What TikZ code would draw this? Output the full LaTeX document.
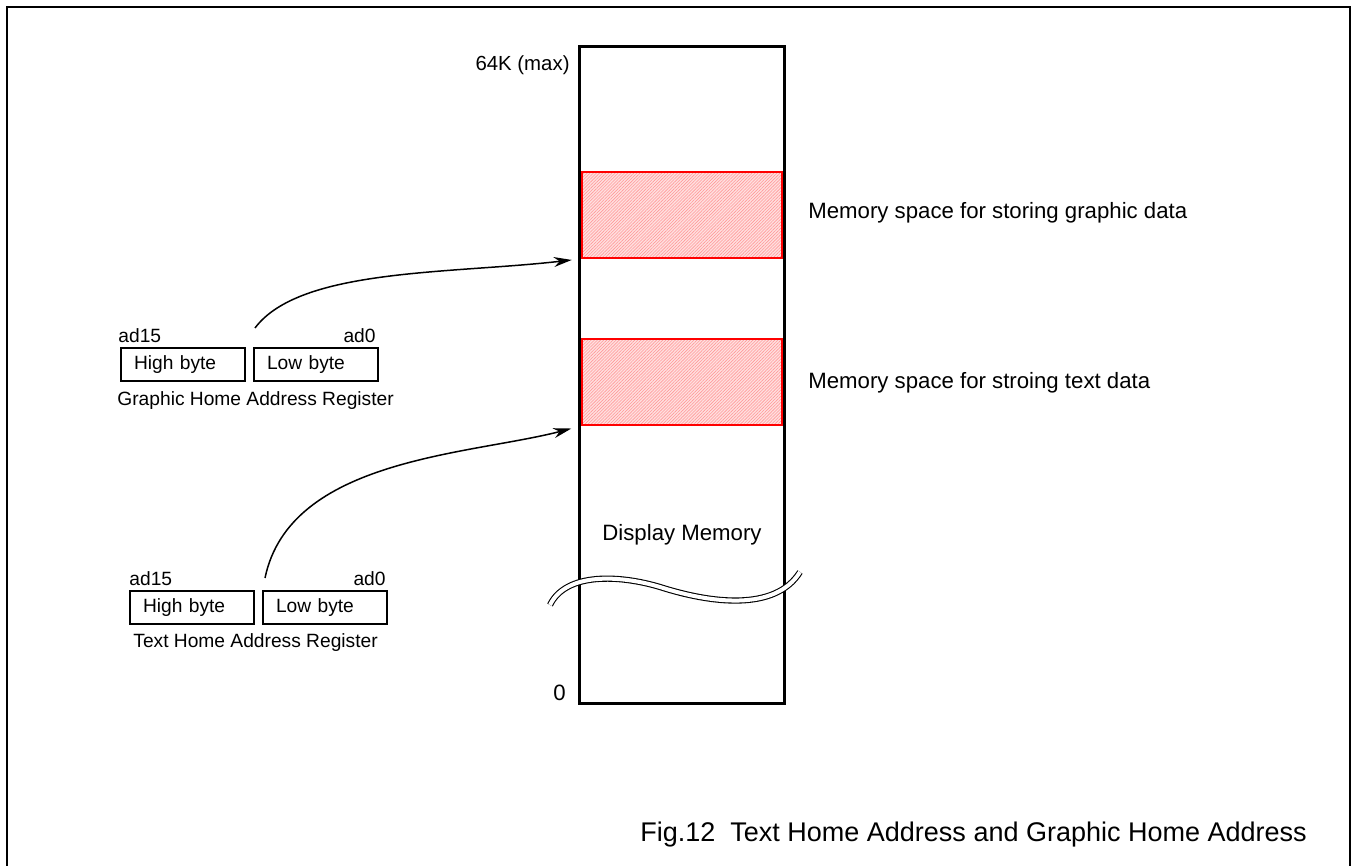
\documentclass[tikz,border=0pt]{standalone}
\usepackage{fontspec}
\setmainfont{Liberation Sans}
\usetikzlibrary{positioning,patterns.meta,arrows.meta}

\begin{document}
\begin{tikzpicture}[x=0.5pt,y=-0.5pt]
	\tikzstyle{reg} = [draw = black, line width=1pt, minimum height=16.5pt, text width=49pt, inner xsep=6.5pt, inner ysep=0pt, align=left, font=\fontsize{9.6}{11}\selectfont]
\tikzstyle{lbl} = [inner sep=0pt, font=\fontsize{9.6}{11}\selectfont]
\tikzstyle{txt} = [inner sep=0pt, font=\fontsize{11.1}{13}\selectfont]
\tikzstyle{mem} = [draw = black, line width=1.5pt, minimum width=102.5pt, minimum height=328.5pt, inner sep=0pt]
\tikzstyle{area} = [draw = red, line width=1pt, minimum width=100pt, minimum height=43pt, inner sep=0pt, preaction={fill=red!12}, pattern={Lines[angle=45,distance=1.1pt,line width=0.3pt]}, pattern color=red!40]
\tikzstyle{line} = [line width=0.75pt, >={Stealth[length=9pt,width=5pt]}]
\useasboundingbox (0,0) rectangle (1357,866);
\draw[line width=1pt] (7,866) -- (7,7) -- (1350,7) -- (1350,866);
\node(mem)[mem] at (682,375) {};
\node(garea)[area] at (682,215.5) {};
\node(tarea)[area] at (682,382) {};
\node(top)[inner sep=0pt, anchor=east, font=\fontsize{10.2}{12}\selectfont] at (570,65) {64K (max)};
\node(zero)[txt, anchor=east] at (566,693) {0};
\node(dm)[txt] at (682,535) {Display Memory};
\node(gtxt)[txt, anchor=west] at (808,213) {Memory space for storing graphic data};
\node(ttxt)[txt, anchor=west] at (808,383) {Memory space for stroing text data};
\draw[double=white, double distance=2pt, line width=0.55pt] (550,605) .. controls (566,572) and (620,575) .. (660,587) .. controls (710,603) and (775,612) .. (800,572);
% graphic home address register
\node(ghigh)[reg] at (183,364.5) {High byte};
\node(glow)[reg, right=3.5pt of ghigh] {Low byte};
\node(g15)[lbl, above right=2pt and -1pt of ghigh.north west] {ad15};
\node(g0)[lbl, above left=2pt and 1.5pt of glow.north east] {ad0};
\node(gname)[lbl, below right=4.5pt and -1.5pt of ghigh.south west] {Graphic Home Address Register};
% text home address register
\node(thigh)[reg] at (192,607.5) {High byte};
\node(tlow)[reg, right=3.5pt of thigh] {Low byte};
\node(t15)[lbl, above right=2pt and 0pt of thigh.north west] {ad15};
\node(t0)[lbl, above left=2pt and 1pt of tlow.north east] {ad0};
\node(tname)[lbl, below right=4pt and 2pt of thigh.south west] {Text Home Address Register};
\coordinate (gfrom) at (255,328);
\coordinate (tfrom) at (265,578);
\draw[line,->,shorten >=5pt] (gfrom) .. controls (300,268) and (450,274) .. (garea.south west);
\draw[line,->,shorten >=5pt] (tfrom) .. controls (290,458) and (470,455) .. (tarea.south west);
\node(cap)[inner sep=0pt, anchor=west, font=\fontsize{13.5}{16}\selectfont] at (640,835) {Fig.12\ \ Text Home Address and Graphic Home Address};
  \end{tikzpicture}
\end{document}
